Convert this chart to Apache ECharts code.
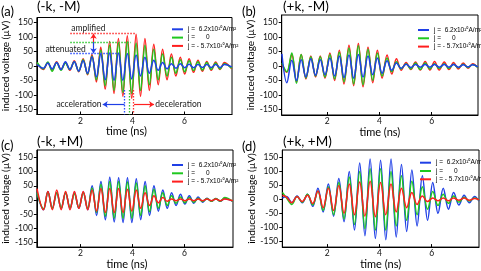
<!DOCTYPE html>
<html><head><meta charset="utf-8">
<script src="https://cdn.jsdelivr.net/npm/echarts@6/dist/echarts.min.js"></script>
<style>html,body{margin:0;padding:0;background:#fff}#c{width:481px;height:271px}</style>
</head><body><div id="c"></div>
<script>
// ---------- data (times in ns, voltages in µV) ----------
const tA = [0.33,0.57,0.74,0.91,1.08,1.25,1.42,1.59,1.76,1.93,2.10,2.27,2.44,2.61,2.78,2.95,3.12,3.29,3.46,3.63,3.80,3.97,4.14,4.31,4.48,4.65,4.82,4.99,5.16,5.33,5.50,5.67,5.84,6.01,6.18,6.35,6.52,6.69,6.86,7.03,7.20,7.37,7.54,7.82];
const aBlue  = [5,-8,10,-10,12,-12,15,-12,15,-18,18,-25,32,-38,42,-48,45,-50,45,-50,43,-45,38,-35,30,-25,20,-15,12,-10,8,-8,8,-6,6,-6,5,-5,5,-5,5,-5,5,-3];
const aGreen = [12,-10,14,-18,12,-15,10,-12,15,-18,22,-28,35,-48,55,-68,72,-85,80,-92,85,-95,80,-85,72,-65,58,-48,42,-35,30,-25,22,-20,18,-16,15,-14,12,-12,10,-10,8,-8];
const aRed   = [10,-12,12,-15,15,-12,12,-15,18,-20,25,-30,40,-55,65,-80,85,-95,95,-105,105,-112,110,-105,95,-85,75,-65,58,-48,42,-35,30,-28,25,-22,20,-18,16,-15,14,-12,12,-10];

const tB = [0.26,0.45,0.64,0.82,1.00,1.18,1.37,1.55,1.73,1.91,2.10,2.28,2.46,2.64,2.83,3.01,3.19,3.37,3.56,3.74,3.92,4.10,4.29,4.47,4.65,4.83,5.02,5.20,5.38,5.56,5.75,5.93,6.11,6.29,6.48,6.66,6.84,7.02,7.21,7.39,7.57,7.77];
const bBlue  = [42,-58,20,-50,22,-38,25,-32,22,-30,28,-35,35,-40,38,-42,40,-38,35,-30,28,-25,18,-15,10,-8,6,-5,5,-4,5,-4,5,-4,5,-4,5,-4,4,-3,4,-3];
const bGreen = [10,-20,45,-60,40,-42,32,-35,32,-38,40,-45,48,-55,62,-62,70,-65,58,-50,45,-35,28,-20,15,-10,8,-10,10,-12,10,-10,8,-8,8,-8,6,-6,6,-5,5,-5];
const bRed   = [5,-22,40,-55,40,-45,35,-38,35,-42,45,-50,55,-62,72,-68,78,-72,65,-58,55,-42,38,-28,25,-15,12,-12,14,-14,16,-14,16,-14,14,-12,12,-10,10,-8,8,-6];

const tC = [0.33,0.58,0.75,0.92,1.09,1.26,1.43,1.60,1.77,1.94,2.11,2.28,2.45,2.62,2.79,2.96,3.13,3.30,3.47,3.64,3.81,3.98,4.15,4.32,4.49,4.66,4.83,5.00,5.17,5.34,5.51,5.68,5.85,6.02,6.19,6.36,6.53,6.70,6.87,7.04,7.21,7.38,7.55,7.86];
const cBlue  = [25,-35,30,-30,25,-30,25,-30,25,-30,28,-35,50,-55,65,-70,80,-78,78,-80,78,-80,75,-70,65,-55,50,-40,35,-30,25,-20,20,-15,15,-12,10,-8,6,-5,5,-5,5,-5];
const cGreen = [25,-32,28,-30,25,-28,25,-28,22,-28,25,-30,42,-45,55,-58,65,-65,65,-65,63,-65,60,-55,50,-42,38,-30,25,-20,15,-12,10,-10,8,-8,6,-6,5,-5,5,-5,8,-5];
const cRed   = [40,-35,30,-35,35,-35,30,-35,30,-30,30,-35,35,-40,40,-45,40,-45,40,-45,38,-40,35,-30,25,-20,15,-10,8,-5,3,-3,3,-3,3,-3,3,-3,3,-3,3,-3,3,-3];

const tD = [0.28,0.44,0.64,0.84,1.04,1.24,1.44,1.64,1.84,2.04,2.24,2.44,2.64,2.84,3.04,3.24,3.44,3.64,3.84,4.04,4.24,4.44,4.64,4.84,5.04,5.24,5.44,5.64,5.84,6.04,6.24,6.44,6.64,6.84,7.04,7.24,7.44,7.64,7.81];
const dBlue  = [5,10,-12,12,-12,18,-25,40,-45,55,-60,75,-80,100,-110,130,-130,145,-140,140,-145,145,-135,125,-115,105,-95,85,-75,60,-50,40,-35,25,-20,15,-12,10,-6];
const dGreen = [25,5,-18,10,-10,18,-20,30,-40,45,-55,60,-70,80,-90,100,-105,110,-110,110,-110,100,-95,85,-75,65,-55,45,-35,28,-22,18,-14,12,-10,8,-6,5,-3];
const dRed   = [15,8,-12,10,-8,15,-15,30,-30,40,-40,50,-50,55,-55,62,-60,65,-62,60,-55,55,-45,40,-30,25,-18,12,-8,5,-5,5,-5,5,-3,5,-3,3,-2];

const yTicks = [-150,-100,-50,0,50,100,150];
const xTicks = [2,4,6];
const seriesNames = ['j =  6.2x10\u00b9\u2070A/m\u00b2', 'j =      0', 'j = - 5.7x10\u00b9\u2070A/m\u00b2'];
const panelTags = ['(a)','(b)','(c)','(d)'];
const panelTitles = ['(-k, -M)','(+k, -M)','(-k, +M)','(+k, +M)'];

// ---------- layout ----------
const FONT = 'Lato, "Open Sans", sans-serif';
const LFONT = '"Liberation Sans", Lato, sans-serif';
const COLORS = ['#1f3fe6', '#1ec81e', '#ff1e1e'];
const panels = [
  {t:tA, v:[aBlue,aGreen,aRed], grid:{left:35.3, top:17.5, width:196.7, height:97}, x:[0.32,7.83], y:[-168,168], leg:{left:167, top:20.3}, shift:16, order:[2,1,0], tag:[1,12], title:[37,6.5]},
  {t:tB, v:[bBlue,bGreen,bRed], grid:{left:281.7, top:15, width:196.3, height:100}, x:[0.253,7.774], y:[-169.7,176.7], leg:{left:413, top:21}, shift:0, order:[2,1,0], tag:[242,12], title:[283,6.5]},
  {t:tC, v:[cBlue,cGreen,cRed], grid:{left:35, top:150, width:198, height:99.3}, x:[0.324,7.87], y:[-167.3,176.7], leg:{left:167, top:156}, shift:16, order:[0,1,2], tag:[1,146], title:[37,141.7]},
  {t:tD, v:[dBlue,dGreen,dRed], grid:{left:282.3, top:150, width:196.7, height:100}, x:[0.276,7.81], y:[-170.9,176.8], leg:{left:415, top:153.7}, shift:0, order:[0,1,2], tag:[242,147], title:[283,142]}
];

const grids = [], xAxes = [], yAxes = [], series = [], legends = [];
panels.forEach((p, i) => {
  grids.push(Object.assign({show:true, borderColor:'#000', borderWidth:1, backgroundColor:'transparent'}, p.grid));
  xAxes.push({type:'value', gridIndex:i, min:p.x[0], max:p.x[1],
    axisLine:{onZero:false, lineStyle:{color:'#000', width:1}},
    axisTick:{inside:true, length:3, customValues:xTicks, lineStyle:{color:'#000'}},
    axisLabel:{customValues:xTicks, fontSize:8.5, color:'#111', margin:2, fontFamily:FONT},
    splitLine:{show:false},
    name:'time (ns)', nameLocation:'middle', nameGap:8,
    nameTextStyle:{fontSize:11, color:'#000', fontFamily:FONT, padding:[0,p.shift,0,0]}});
  yAxes.push({type:'value', gridIndex:i, min:p.y[0], max:p.y[1],
    axisLine:{onZero:false, lineStyle:{color:'#000', width:1}},
    axisTick:{inside:false, length:3, customValues:yTicks, lineStyle:{color:'#000'}},
    axisLabel:{customValues:yTicks, fontSize:8.5, color:'#111', margin:4, fontFamily:FONT},
    splitLine:{show:false},
    name:'induced voltage (\u00b5V)', nameLocation:'middle', nameGap:21, nameRotate:90,
    nameTextStyle:{fontSize:10, color:'#000', fontFamily:FONT}});
  p.order.forEach(k => {
    series.push({type:'line', name:seriesNames[k], xAxisIndex:i, yAxisIndex:i,
      data:p.t.map((t, j) => [t, p.v[k][j]]),
      smooth:0.36, showSymbol:false, symbol:'none',
      lineStyle:{color:COLORS[k], width:1.5}, itemStyle:{color:COLORS[k]}, z:2});
  });
  legends.push({orient:'vertical', left:p.leg.left, top:p.leg.top, icon:'rect', itemWidth:11, itemHeight:2,
    itemGap:0.3, selectedMode:false, data:seriesNames.map((n,k)=>({name:n, itemStyle:{color:COLORS[k]}})),
    textStyle:{fontSize:6.5, lineHeight:8, color:'#000', fontFamily:LFONT}});
});

// annotation lines of panel (a), in data coordinates
const dotted = (color, pairs) => ({type:'line', xAxisIndex:0, yAxisIndex:0, data:[], silent:true,
  markLine:{silent:true, animation:false, symbol:['none','none'], label:{show:false},
    lineStyle:{color:color, type:[1.5,1.5], width:1.3, opacity:1},
    emphasis:{disabled:true},
    data:pairs.map(pr => [{coord:pr[0]},{coord:pr[1]}])}});
const arrows = (color, pairs) => ({type:'line', xAxisIndex:0, yAxisIndex:0, data:[], silent:true,
  markLine:{silent:true, animation:false, symbol:['none','arrow'], symbolSize:5, label:{show:false},
    lineStyle:{color:color, type:'solid', width:1.2, opacity:1},
    emphasis:{disabled:true},
    data:pairs.map(pr => [{coord:pr[0]},{coord:pr[1]}])}});
series.push(dotted('#ff3030', [[[1.607,112],[4.12,112]], [[4.03,-83],[4.03,-168]]]));
series.push(dotted('#2ec82e', [[[1.607,83],[3.936,83]], [[3.86,-83],[3.86,-168]]]));
series.push(dotted('#2a4cff', [[[1.607,44],[3.49,44]], [[3.67,-83],[3.67,-168]]]));
series.push(arrows('#ff2020', [[[2.5,83],[2.5,112]], [[4.06,-133],[4.83,-133]]]));
series.push(arrows('#1f3fe6', [[[2.5,83],[2.5,44]], [[3.695,-133],[2.855,-133]]]));

const chart = echarts.init(document.getElementById('c'));
chart.setOption({animation:false, backgroundColor:'#fff', grid:grids, xAxis:xAxes, yAxis:yAxes, series:series, legend:legends});

// text annotations
const g = [];
panels.forEach((p, i) => {
  g.push({type:'text', x:p.tag[0], y:p.tag[1], style:{text:panelTags[i], fontSize:13, fontFamily:FONT, fill:'#000', textVerticalAlign:'middle'}});
  g.push({type:'text', x:p.title[0], y:p.title[1], style:{text:panelTitles[i], fontSize:13.5, fontFamily:FONT, fill:'#000', textVerticalAlign:'middle'}});
});
const notes = [
  ['amplified', 1.645, 129, 'left'],
  ['attenuated', 0.65, 59, 'left'],
  ['acceleration', 2.81, -133, 'right'],
  ['deceleration', 4.88, -133, 'left']
];
notes.forEach(n => {
  const px = chart.convertToPixel({xAxisIndex:0, yAxisIndex:0}, [n[1], n[2]]);
  g.push({type:'text', x:px[0], y:px[1], style:{text:n[0], fontSize:8.5, fontFamily:FONT, fill:'#222', textAlign:n[3], textVerticalAlign:'middle'}});
});
chart.setOption({graphic:g});
</script></body></html>
